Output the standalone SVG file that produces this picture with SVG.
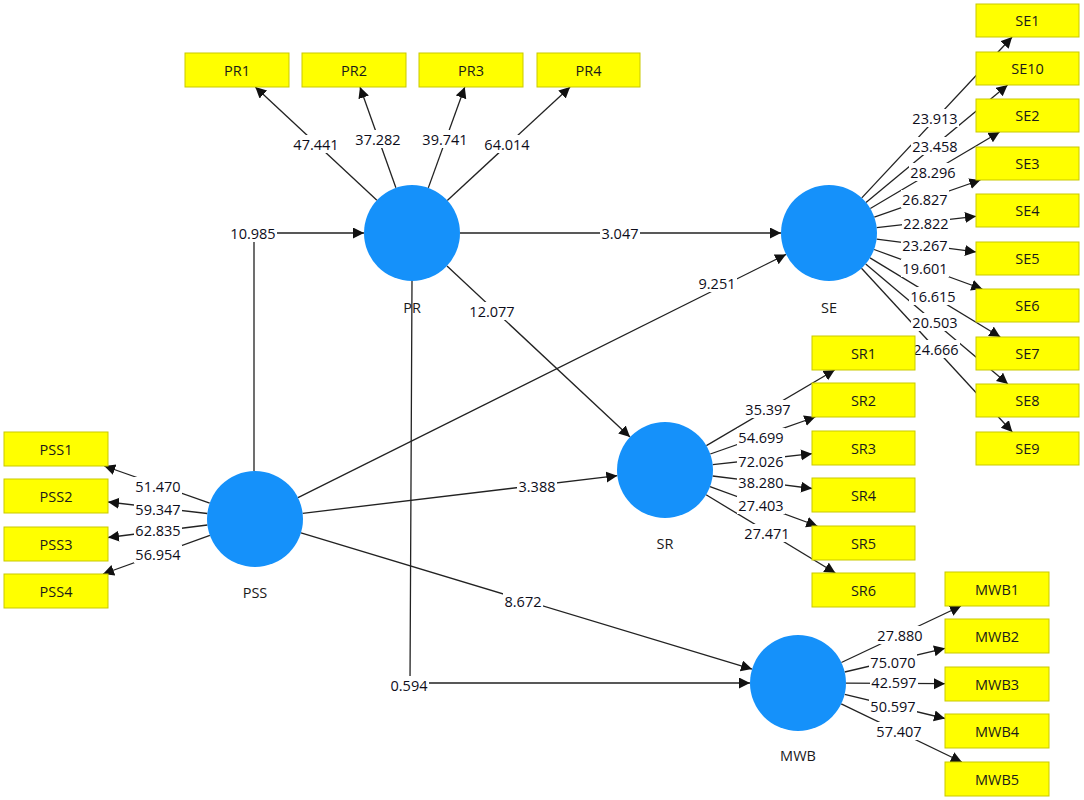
<svg xmlns="http://www.w3.org/2000/svg" width="1084" height="800" viewBox="0 0 1084 800">
<style>
.c{fill:none;stroke:#222;stroke-width:1.3;marker-end:url(#ah)}
.l{font-family:"Open Sans","Noto Sans",sans-serif;font-size:14.5px;fill:#0d0d1a;text-anchor:middle;dominant-baseline:central}
.lb{fill:#fff}
.lv{fill:#1591fa}
.nl{font-family:"Open Sans","Noto Sans",sans-serif;font-size:14.5px;fill:#1a1a1a;text-anchor:middle;dominant-baseline:central}
.bx{fill:#ffff00;stroke:#c9c900;stroke-width:1}
.bt{font-family:"Open Sans","Noto Sans",sans-serif;font-size:14.5px;fill:#1a1a1a;text-anchor:middle;dominant-baseline:central}
</style>
<defs>
<marker id="ah" markerUnits="userSpaceOnUse" markerWidth="12" markerHeight="12" refX="11" refY="5.5" orient="auto"><path d="M0,0 L11,5.5 L0,11 z" fill="#111"/></marker>
</defs>
<rect width="1084" height="800" fill="#fff"/>
<g id="connectors">
<path class="c" d="M376.9,200.3 L255.3,87"/>
<path class="c" d="M395.9,187.8 L360,87"/>
<path class="c" d="M428.3,187.9 L464.8,87"/>
<path class="c" d="M447.3,200.4 L570.1,87"/>
<path class="c" d="M861.8,197.9 L1012.1,37"/>
<path class="c" d="M866,202.4 L1007.6,85"/>
<path class="c" d="M870.3,208.5 L999.6,132"/>
<path class="c" d="M874.3,217.1 L980.4,180"/>
<path class="c" d="M876.7,227.6 L976,216.3"/>
<path class="c" d="M876.6,239.1 L976,251.9"/>
<path class="c" d="M874.1,249.5 L982.3,289"/>
<path class="c" d="M870,257.9 L1000.3,337"/>
<path class="c" d="M865.7,264 L1007.9,384"/>
<path class="c" d="M861.5,268.3 L1012.3,432"/>
<path class="c" d="M706.4,445.6 L834.7,370"/>
<path class="c" d="M710.3,454 L815.3,417"/>
<path class="c" d="M712.7,464.7 L812,453.7"/>
<path class="c" d="M712.6,476 L812,488.5"/>
<path class="c" d="M710,486.6 L817.3,526"/>
<path class="c" d="M706.1,494.8 L835.4,573"/>
<path class="c" d="M841.4,662.5 L961,606"/>
<path class="c" d="M844.7,672 L945,648.3"/>
<path class="c" d="M846,683.2 L945,683.7"/>
<path class="c" d="M844.7,694.3 L945,718.5"/>
<path class="c" d="M841.2,703.9 L961.8,762"/>
<path class="c" d="M209.7,503.1 L104.3,466"/>
<path class="c" d="M207.3,513.5 L108,502"/>
<path class="c" d="M207.4,525 L108,537.5"/>
<path class="c" d="M209.9,535.3 L103,574"/>
<path class="c" d="M254,471 L254,233 L364,233"/>
<path class="c" d="M460,233 L781,233"/>
<path class="c" d="M447,266 L630,437"/>
<path class="c" d="M298,497.6 L786,254.4"/>
<path class="c" d="M302.7,513.3 L617.3,475.7"/>
<path class="c" d="M301,532.9 L752,669.1"/>
<path class="c" d="M412,281 L410,683 L750,683"/>
<g id="connector-labels">
<rect class="lb" x="292" y="135" width="48" height="18"/><text class="l" x="316" y="144">47.441</text>
<rect class="lb" x="354" y="130" width="48" height="18"/><text class="l" x="378" y="139">37.282</text>
<rect class="lb" x="421" y="130" width="48" height="18"/><text class="l" x="445" y="139">39.741</text>
<rect class="lb" x="483" y="135" width="48" height="18"/><text class="l" x="507" y="144">64.014</text>
<rect class="lb" x="911" y="109" width="48" height="18"/><text class="l" x="935" y="118">23.913</text>
<rect class="lb" x="911" y="137" width="48" height="18"/><text class="l" x="935" y="146">23.458</text>
<rect class="lb" x="909" y="163" width="48" height="18"/><text class="l" x="933" y="172">28.296</text>
<rect class="lb" x="901" y="190" width="48" height="18"/><text class="l" x="925" y="199">26.827</text>
<rect class="lb" x="902" y="214" width="48" height="18"/><text class="l" x="926" y="223">22.822</text>
<rect class="lb" x="901" y="236" width="48" height="18"/><text class="l" x="925" y="245">23.267</text>
<rect class="lb" x="901" y="259" width="48" height="18"/><text class="l" x="925" y="268">19.601</text>
<rect class="lb" x="909" y="287" width="48" height="18"/><text class="l" x="933" y="296">16.615</text>
<rect class="lb" x="911" y="313" width="48" height="18"/><text class="l" x="935" y="322">20.503</text>
<rect class="lb" x="912" y="340" width="48" height="18"/><text class="l" x="936" y="349">24.666</text>
<rect class="lb" x="744" y="400" width="48" height="18"/><text class="l" x="768" y="409">35.397</text>
<rect class="lb" x="737" y="428" width="48" height="18"/><text class="l" x="761" y="437">54.699</text>
<rect class="lb" x="737" y="452" width="48" height="18"/><text class="l" x="761" y="461">72.026</text>
<rect class="lb" x="737" y="473" width="48" height="18"/><text class="l" x="761" y="482">38.280</text>
<rect class="lb" x="737" y="496" width="48" height="18"/><text class="l" x="761" y="505">27.403</text>
<rect class="lb" x="743" y="524" width="48" height="18"/><text class="l" x="767" y="533">27.471</text>
<rect class="lb" x="876" y="626" width="48" height="18"/><text class="l" x="900" y="635">27.880</text>
<rect class="lb" x="869" y="653" width="48" height="18"/><text class="l" x="893" y="662">75.070</text>
<rect class="lb" x="870" y="673" width="48" height="18"/><text class="l" x="894" y="682">42.597</text>
<rect class="lb" x="869" y="697" width="48" height="18"/><text class="l" x="893" y="706">50.597</text>
<rect class="lb" x="875" y="722" width="48" height="18"/><text class="l" x="899" y="731">57.407</text>
<rect class="lb" x="134" y="477" width="48" height="18"/><text class="l" x="158" y="486">51.470</text>
<rect class="lb" x="134" y="500" width="48" height="18"/><text class="l" x="158" y="509">59.347</text>
<rect class="lb" x="134" y="521" width="48" height="18"/><text class="l" x="158" y="530">62.835</text>
<rect class="lb" x="134" y="545" width="48" height="18"/><text class="l" x="158" y="554">56.954</text>
<rect class="lb" x="229" y="224" width="48" height="18"/><text class="l" x="253" y="233">10.985</text>
<rect class="lb" x="600" y="224" width="40" height="18"/><text class="l" x="620" y="233">3.047</text>
<rect class="lb" x="468" y="302" width="48" height="18"/><text class="l" x="492" y="311">12.077</text>
<rect class="lb" x="697" y="274" width="40" height="18"/><text class="l" x="717" y="283">9.251</text>
<rect class="lb" x="517" y="477" width="40" height="18"/><text class="l" x="537" y="486">3.388</text>
<rect class="lb" x="503" y="592" width="40" height="18"/><text class="l" x="523" y="601">8.672</text>
<rect class="lb" x="389" y="676" width="40" height="18"/><text class="l" x="409" y="685">0.594</text>
</g>
</g>
<g id="PR"><circle class="lv" cx="412" cy="233" r="48"/><text class="nl" x="412" y="307">PR</text></g>
<g id="SE"><circle class="lv" cx="829" cy="233" r="48"/><text class="nl" x="829" y="307">SE</text></g>
<g id="SR"><circle class="lv" cx="665" cy="470" r="48"/><text class="nl" x="665" y="543">SR</text></g>
<g id="PSS"><circle class="lv" cx="255" cy="519" r="48"/><text class="nl" x="255" y="592">PSS</text></g>
<g id="MWB"><circle class="lv" cx="798" cy="683" r="48"/><text class="nl" x="798" y="755">MWB</text></g>
<g id="PR1"><rect class="bx" x="185" y="53" width="104" height="34"/><text class="bt" x="237" y="70">PR1</text></g>
<g id="PR2"><rect class="bx" x="302" y="53" width="104" height="34"/><text class="bt" x="354" y="70">PR2</text></g>
<g id="PR3"><rect class="bx" x="419" y="53" width="104" height="34"/><text class="bt" x="471" y="70">PR3</text></g>
<g id="PR4"><rect class="bx" x="537" y="53" width="103" height="34"/><text class="bt" x="588.5" y="70">PR4</text></g>
<g id="SE1"><rect class="bx" x="976" y="4" width="103" height="33"/><text class="bt" x="1027.5" y="20.5">SE1</text></g>
<g id="SE10"><rect class="bx" x="976" y="52" width="103" height="33"/><text class="bt" x="1027.5" y="68.5">SE10</text></g>
<g id="SE2"><rect class="bx" x="976" y="99" width="103" height="33"/><text class="bt" x="1027.5" y="115.5">SE2</text></g>
<g id="SE3"><rect class="bx" x="976" y="147" width="103" height="33"/><text class="bt" x="1027.5" y="163.5">SE3</text></g>
<g id="SE4"><rect class="bx" x="976" y="194" width="103" height="33"/><text class="bt" x="1027.5" y="210.5">SE4</text></g>
<g id="SE5"><rect class="bx" x="976" y="242" width="103" height="33"/><text class="bt" x="1027.5" y="258.5">SE5</text></g>
<g id="SE6"><rect class="bx" x="976" y="289" width="103" height="33"/><text class="bt" x="1027.5" y="305.5">SE6</text></g>
<g id="SE7"><rect class="bx" x="976" y="337" width="103" height="33"/><text class="bt" x="1027.5" y="353.5">SE7</text></g>
<g id="SE8"><rect class="bx" x="976" y="384" width="103" height="33"/><text class="bt" x="1027.5" y="400.5">SE8</text></g>
<g id="SE9"><rect class="bx" x="976" y="432" width="103" height="33"/><text class="bt" x="1027.5" y="448.5">SE9</text></g>
<g id="SR1"><rect class="bx" x="812" y="336" width="103" height="34"/><text class="bt" x="863.5" y="353">SR1</text></g>
<g id="SR2"><rect class="bx" x="812" y="383" width="103" height="34"/><text class="bt" x="863.5" y="400">SR2</text></g>
<g id="SR3"><rect class="bx" x="812" y="431" width="103" height="34"/><text class="bt" x="863.5" y="448">SR3</text></g>
<g id="SR4"><rect class="bx" x="812" y="478" width="103" height="34"/><text class="bt" x="863.5" y="495">SR4</text></g>
<g id="SR5"><rect class="bx" x="812" y="526" width="103" height="34"/><text class="bt" x="863.5" y="543">SR5</text></g>
<g id="SR6"><rect class="bx" x="812" y="573" width="103" height="34"/><text class="bt" x="863.5" y="590">SR6</text></g>
<g id="MWB1"><rect class="bx" x="945" y="572" width="104" height="34"/><text class="bt" x="997" y="589">MWB1</text></g>
<g id="MWB2"><rect class="bx" x="945" y="619" width="104" height="34"/><text class="bt" x="997" y="636">MWB2</text></g>
<g id="MWB3"><rect class="bx" x="945" y="667" width="104" height="34"/><text class="bt" x="997" y="684">MWB3</text></g>
<g id="MWB4"><rect class="bx" x="945" y="714" width="104" height="34"/><text class="bt" x="997" y="731">MWB4</text></g>
<g id="MWB5"><rect class="bx" x="945" y="762" width="104" height="34"/><text class="bt" x="997" y="779">MWB5</text></g>
<g id="PSS1"><rect class="bx" x="4" y="432" width="104" height="34"/><text class="bt" x="56" y="449">PSS1</text></g>
<g id="PSS2"><rect class="bx" x="4" y="479" width="104" height="34"/><text class="bt" x="56" y="496">PSS2</text></g>
<g id="PSS3"><rect class="bx" x="4" y="527" width="104" height="34"/><text class="bt" x="56" y="544">PSS3</text></g>
<g id="PSS4"><rect class="bx" x="4" y="574" width="104" height="34"/><text class="bt" x="56" y="591">PSS4</text></g>
</svg>
